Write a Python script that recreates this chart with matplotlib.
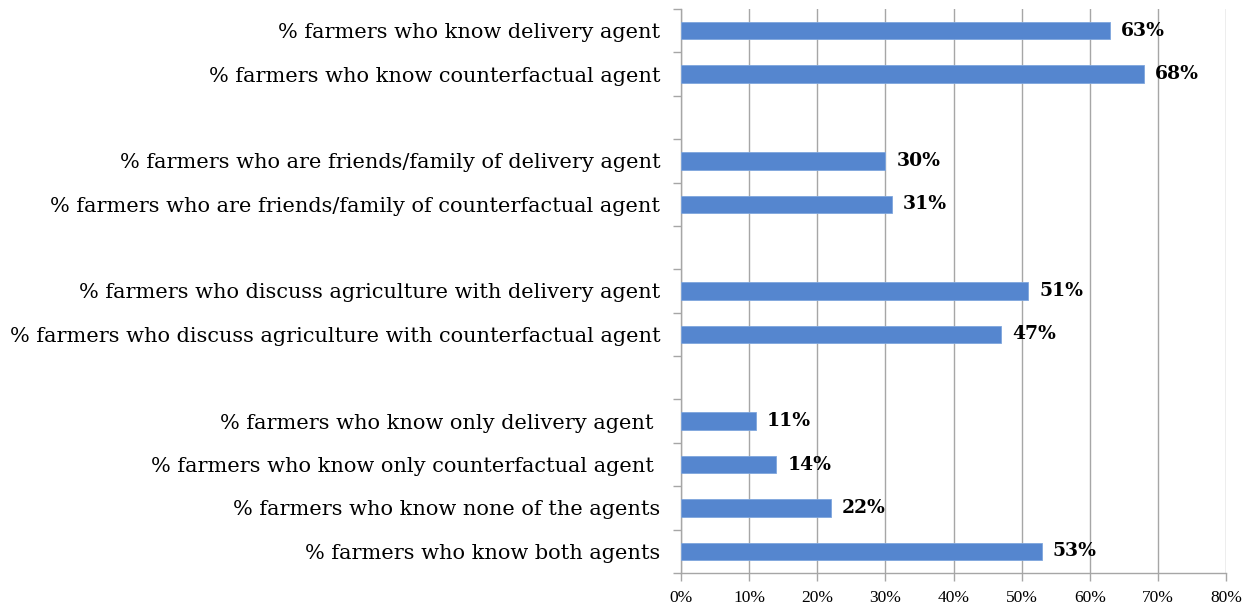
import matplotlib
matplotlib.use("Agg")
import matplotlib.pyplot as plt
from matplotlib.ticker import PercentFormatter

# rows top to bottom; empty strings are spacer rows between groups
categories = [
    "% farmers who know delivery agent",
    "% farmers who know counterfactual agent",
    "",
    "% farmers who are friends/family of delivery agent",
    "% farmers who are friends/family of counterfactual agent",
    "",
    "% farmers who discuss agriculture with delivery agent",
    "% farmers who discuss agriculture with counterfactual agent",
    "",
    "% farmers who know only delivery agent ",
    "% farmers who know only counterfactual agent ",
    "% farmers who know none of the agents",
    "% farmers who know both agents",
]
values = [63, 68, None, 30, 31, None, 51, 47, None, 11, 14, 22, 53]
xticks = [0, 10, 20, 30, 40, 50, 60, 70, 80]

BAR = "#5586CF"
GREY = "#A6A6A6"

plt.rcParams["font.family"] = ["DejaVu Serif"]

fig = plt.figure(figsize=(12.47, 6.05), dpi=100)
ax = fig.add_axes([681 / 1247, 32 / 605, 545 / 1247, 564 / 605])

n = len(categories)
ypos = list(range(n))
for y, v in zip(ypos, values):
    if v is None:
        continue
    ax.barh(y, v, height=0.4, color=BAR, edgecolor="#7FA6DD", linewidth=0.6, zorder=3)
    ax.text(v + 1.6, y, f"{v}%", va="center", ha="left",
            fontsize=13.5, fontweight="bold", zorder=4)

ax.set_ylim(n - 0.5, -0.5)
ax.set_xlim(0, 80)
ax.set_xticks(xticks)
ax.xaxis.set_major_formatter(PercentFormatter(decimals=0))
ax.set_yticks(ypos)
ax.set_yticklabels(categories, fontsize=15)
ax.set_yticks([i - 0.5 for i in range(n + 1)], minor=True)
for lbl in ax.get_xticklabels():
    lbl.set_family("Liberation Serif")

ax.tick_params(axis="y", which="major", length=0, pad=15)
ax.tick_params(axis="y", which="minor", length=6, color=GREY, width=1)
ax.tick_params(axis="x", length=6, color=GREY, width=1, labelsize=12.5, pad=6)

ax.grid(axis="x", color=GREY, linewidth=1, zorder=0)
for side in ("top", "right"):
    ax.spines[side].set_visible(False)
for side in ("left", "bottom"):
    ax.spines[side].set_color(GREY)
    ax.spines[side].set_linewidth(1)

fig.savefig("out.png", dpi=100)
